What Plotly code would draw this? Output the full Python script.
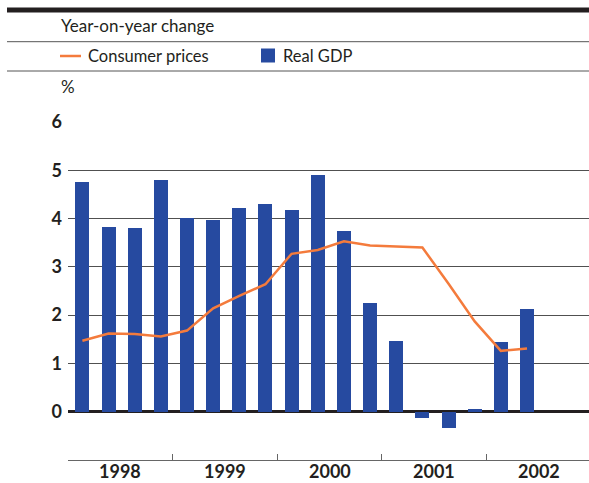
import plotly.graph_objects as go

# Quarterly data, 1998 Q1 - 2002 Q2
quarters = list(range(18))
real_gdp = [4.75, 3.83, 3.81, 4.79, 4.02, 3.96, 4.21, 4.31, 4.18,
            4.91, 3.75, 2.26, 1.47, -0.13, -0.34, 0.06, 1.45, 2.13]
consumer_prices = [1.47, 1.62, 1.61, 1.56, 1.68, 2.14, 2.40, 2.64, 3.27,
                   3.35, 3.53, 3.44, 3.42, 3.40, 2.65, 1.87, 1.26, 1.31]
years = ["1998", "1999", "2000", "2001", "2002"]
y_ticks = [0, 1, 2, 3, 4, 5, 6]

W, H = 589, 483
L, R, T, B = 68, 0, 121, 23
BLUE = "#264aa0"
ORANGE = "#f47b3c"
INK = "#231f20"
GRID = "#505050"
FONT = "Lato"


def px_x(px):
    return (px - L) / (W - L - R)


def px_y(py):
    return (H - B - py) / (H - T - B)


fig = go.Figure()
fig.add_trace(go.Bar(x=quarters, y=real_gdp, marker_color=BLUE,
                     marker_line_width=0, width=0.535, name="Real GDP",
                     showlegend=False))
fig.add_trace(go.Scatter(x=quarters, y=consumer_prices, mode="lines",
                         line=dict(color=ORANGE, width=2.5),
                         name="Consumer prices", showlegend=False))

shapes = [
    # heavy rule at the top
    dict(type="rect", xref="paper", yref="paper", x0=px_x(7), x1=px_x(589),
         y0=px_y(12.5), y1=px_y(7.5), fillcolor=INK, line_width=0),
    # thin rules around the legend row
    dict(type="line", xref="paper", yref="paper", x0=px_x(7), x1=px_x(589),
         y0=px_y(41.7), y1=px_y(41.7), line=dict(color="#555555", width=1)),
    dict(type="line", xref="paper", yref="paper", x0=px_x(7), x1=px_x(589),
         y0=px_y(71), y1=px_y(71), line=dict(color="#555555", width=1)),
    # legend keys
    dict(type="line", xref="paper", yref="paper", x0=px_x(60), x1=px_x(81),
         y0=px_y(56), y1=px_y(56), line=dict(color=ORANGE, width=2.5)),
    dict(type="rect", xref="paper", yref="paper", x0=px_x(261), x1=px_x(275),
         y0=px_y(62.5), y1=px_y(48.5), fillcolor=BLUE, line_width=0),
]

annotations = [
    dict(text="Year-on-year change", x=px_x(59), y=px_y(26), xref="paper",
         yref="paper", xanchor="left", yanchor="middle", showarrow=False,
         font=dict(family=FONT, size=17, color=INK)),
    dict(text="Consumer prices", x=px_x(86), y=px_y(56), xref="paper",
         yref="paper", xanchor="left", yanchor="middle", showarrow=False,
         font=dict(family=FONT, size=16.5, color=INK)),
    dict(text="Real GDP", x=px_x(281), y=px_y(56), xref="paper",
         yref="paper", xanchor="left", yanchor="middle", showarrow=False,
         font=dict(family=FONT, size=16.5, color=INK)),
    dict(text="%", x=px_x(59), y=px_y(87), xref="paper",
         yref="paper", xanchor="left", yanchor="middle", showarrow=False,
         font=dict(family=FONT, size=17, color=INK)),
]
for k, yr in enumerate(years):
    annotations.append(dict(text="<b>%s</b>" % yr, x=1.45 + 4 * k,
                            y=px_y(471), xref="x", yref="paper",
                            xanchor="center", yanchor="middle",
                            showarrow=False, borderpad=0,
                            font=dict(family=FONT, size=18, color=INK)))

fig.update_layout(
    width=W, height=H,
    margin=dict(l=L, r=R, t=T, b=B, pad=0),
    paper_bgcolor="white", plot_bgcolor="white",
    bargap=0,
    shapes=shapes, annotations=annotations,
    xaxis=dict(range=[-0.55, 19.37], showgrid=False, zeroline=False,
               showline=True, linecolor="#666666", linewidth=1,
               ticks="inside", ticklen=6, tickcolor="#666666", tickwidth=1,
               tickvals=[-0.55, 3.45, 7.45, 11.45, 15.45],
               showticklabels=False, fixedrange=True),
    yaxis=dict(range=[-1, 6.02], tickvals=y_ticks,
               ticktext=["<b>%d</b>" % v for v in y_ticks],
               showgrid=True, gridcolor=GRID, gridwidth=1.3,
               zeroline=True, zerolinecolor=INK, zerolinewidth=2.8,
               showline=False, ticks="", ticklabelstandoff=5,
               tickfont=dict(family=FONT, size=18, color=INK),
               fixedrange=True),
)

fig.write_html("out.html")
